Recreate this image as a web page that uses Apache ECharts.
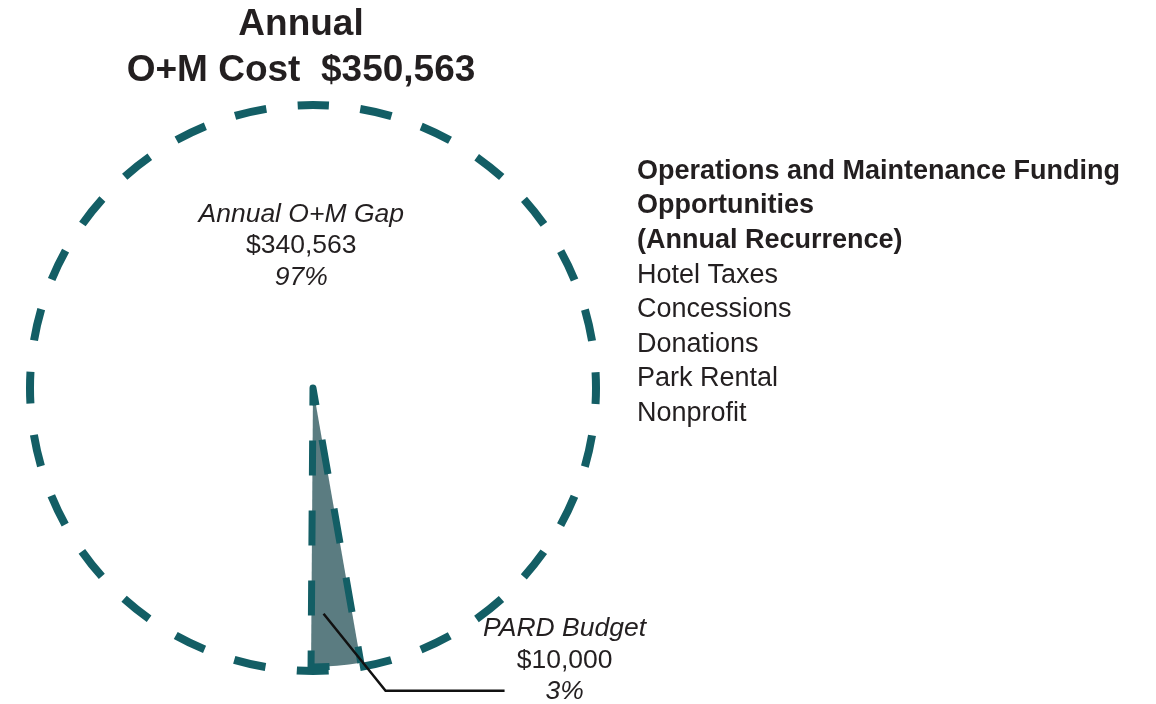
<!DOCTYPE html>
<html>
<head>
<meta charset="utf-8">
<script src="https://cdn.jsdelivr.net/npm/echarts@6/dist/echarts.min.js"></script>
<style>
  html, body { margin: 0; padding: 0; background: #ffffff; }
  #chart { width: 1156px; height: 704px; }
</style>
</head>
<body>
<div id="chart"></div>
<script>
// Annual operations & maintenance cost split
const categories = ['PARD Budget', 'Annual O+M Gap'];
const values = [10000, 340563];
const titleLines = ['Annual', 'O+M Cost'];
const fundingHeading = ['Operations and Maintenance Funding', 'Opportunities', '(Annual Recurrence)'];
const fundingSources = ['Hotel Taxes', 'Concessions', 'Donations', 'Park Rental', 'Nonprofit'];

const total = values.reduce((a, b) => a + b, 0);
const money = v => '$' + v.toLocaleString('en-US');

const FONT = 'Liberation Sans';
const INK = '#231f20';
const TEAL = '#135e65';
const FILL = '#5b7c81';

// pie geometry
const CX = 313, CY = 388, R = 283, R_SLICE = 279;
const sliceDeg = values[0] / total * 360;
// the budget slice begins just left of straight down and sweeps clockwise
const startAngle = -90.4 + sliceDeg;

const chart = echarts.init(document.getElementById('chart'), null, { renderer: 'canvas' });

const rich = {
  n: { fontFamily: FONT, fontSize: 26.5, fontStyle: 'italic', color: INK, lineHeight: 31.5 },
  v: { fontFamily: FONT, fontSize: 26.5, color: INK, lineHeight: 31.5 },
  p: { fontFamily: FONT, fontSize: 26.5, fontStyle: 'italic', color: INK, lineHeight: 31.5 }
};
const labelText = p => `{n|${p.name}}\n{v|${money(p.value)}}\n{p|${Math.round(p.percent)}%}`;

const seriesData = categories.map((name, i) => ({ name, value: values[i] }));

const option = {
  animation: false,
  backgroundColor: '#ffffff',
  graphic: [
    {
      type: 'text',
      x: 301, y: 2,
      style: {
        text: titleLines[0] + '\n' + titleLines[1] + '  ' + money(total),
        font: 'bold 37px "Liberation Sans", Arial, sans-serif',
        fill: INK,
        align: 'center',
        verticalAlign: 'top',
        lineHeight: 46
      }
    },
    {
      type: 'text',
      x: 637, y: 154,
      style: {
        text: fundingHeading.map(t => `{h|${t}}`).join('\n') + '\n' +
              fundingSources.map(t => `{i|${t}}`).join('\n'),
        fill: INK,
        align: 'left',
        verticalAlign: 'top',
        rich: {
          h: { fontFamily: FONT, fontSize: 27, fontWeight: 'bold', fill: INK, lineHeight: 34.6 },
          i: { fontFamily: FONT, fontSize: 27, fill: INK, lineHeight: 34.6 }
        }
      }
    }
  ],
  series: [
    {
      // full annual cost ring
      type: 'pie',
      silent: true,
      center: [CX, CY],
      radius: R,
      startAngle: 90,
      label: { show: false },
      labelLine: { show: false },
      emphasis: { disabled: true },
      data: [{
        name: 'Annual O+M Cost',
        value: total,
        itemStyle: {
          color: 'rgba(0,0,0,0)',
          borderColor: TEAL,
          borderWidth: 8,
          borderType: [32, 31.5],
          borderDashOffset: 16
        }
      }]
    },
    {
      // breakdown sectors: budget slice filled, gap left open
      type: 'pie',
      silent: true,
      center: [CX, CY],
      radius: R_SLICE,
      startAngle: startAngle,
      clockwise: true,
      emphasis: { disabled: true },
      label: { show: false },
      labelLine: { show: false },
      data: seriesData.map((d, i) => ({
        name: d.name,
        value: d.value,
        itemStyle: i === 0
          ? { color: FILL, borderColor: TEAL, borderWidth: 7, borderType: [35, 35], borderDashOffset: 38.5 }
          : { color: 'rgba(0,0,0,0)', borderWidth: 0 }
      }))
    },
    {
      // value labels and the budget callout, kept above the filled slice
      type: 'pie',
      silent: true,
      z: 3,
      center: [CX, CY],
      radius: R_SLICE,
      startAngle: startAngle,
      clockwise: true,
      avoidLabelOverlap: false,
      emphasis: { disabled: true },
      itemStyle: { color: 'rgba(0,0,0,0)', borderWidth: 0 },
      label: { formatter: labelText, rich: rich },
      labelLine: { show: true, lineStyle: { color: '#111111', width: 2.5 } },
      labelLayout: function (p) {
        if (p.dataIndex !== 0) return {};
        // callout starts inside the slice, left of its bisector
        const ang = (startAngle - sliceDeg * 0.7) * Math.PI / 180;
        const r0 = R_SLICE * 0.81;
        const a = [CX + r0 * Math.cos(ang), CY - r0 * Math.sin(ang)];
        const b = [a[0] + 62, a[1] + 77];
        const c = [b[0] + 119, b[1]];
        return {
          x: c[0] + 60,
          y: c[1] + 17,
          align: 'center',
          verticalAlign: 'bottom',
          labelLinePoints: [a, b, c]
        };
      },
      data: seriesData.map((d, i) => ({
        name: d.name,
        value: d.value,
        label: { position: i === 0 ? 'outside' : 'inside' },
        labelLine: { show: i === 0 }
      }))
    }
  ]
};

chart.setOption(option);
</script>
</body>
</html>
